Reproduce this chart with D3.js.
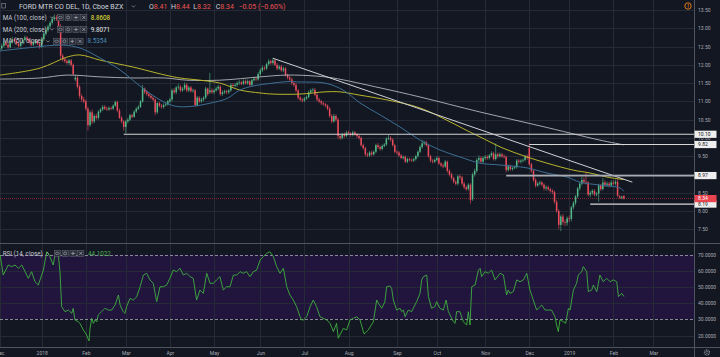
<!DOCTYPE html>
<html><head><meta charset="utf-8">
<script src="https://cdn.jsdelivr.net/npm/d3@7"></script>
<style>
html,body{margin:0;padding:0;background:#131722;}
svg{display:block;}
text{font-family:Roboto,"Noto Sans",sans-serif;}
</style></head><body>
<svg id="chart" width="720" height="357"></svg>
<script>
// ---------------- DATA ----------------
const open = [12.40,12.45,12.52,12.60,12.55,12.48,12.62,12.70,12.65,12.58,
12.52,12.60,12.68,12.75,12.70,12.62,12.55,12.60,12.66,12.58,
12.49,12.70,12.85,12.95,13.05,13.15,13.25,13.30,13.25,13.05,
12.25,12.15,12.10,12.05,12.12,12.00,11.60,11.65,11.40,11.15,
11.05,11.00,10.80,10.35,10.70,10.45,10.60,10.55,10.72,10.78,
10.85,10.80,10.78,10.82,10.80,10.88,10.98,10.75,10.55,10.45,
10.30,10.45,10.50,10.62,10.58,10.72,10.80,10.85,11.00,11.35,
11.25,11.20,11.15,11.10,11.05,10.70,10.95,10.88,10.85,10.90,
10.92,11.00,11.05,11.30,11.25,11.38,11.40,11.30,11.35,11.45,
11.30,11.38,11.28,11.30,10.90,11.10,11.00,11.05,11.10,11.35,
11.25,11.30,11.25,11.30,11.35,11.40,11.20,11.25,11.28,11.25,
11.30,11.45,11.42,11.45,11.50,11.52,11.48,11.55,11.50,11.55,
11.45,11.58,11.62,11.60,11.75,11.85,11.92,11.90,12.02,12.10,
12.05,12.12,12.00,11.90,11.95,11.85,11.90,11.72,11.65,11.60,
11.50,11.45,11.30,11.10,11.05,11.02,11.08,11.12,11.25,11.30,
11.32,11.18,11.05,11.00,10.95,10.92,10.88,10.80,10.60,10.45,
10.60,10.50,10.05,10.00,10.10,10.05,10.15,10.12,10.08,10.15,
10.10,10.05,10.00,9.80,9.72,9.55,9.52,9.60,9.55,9.62,
9.80,9.75,9.70,9.78,9.82,9.98,10.00,9.95,9.80,9.62,
9.60,9.52,9.45,9.48,9.35,9.42,9.40,9.38,9.42,9.50,
9.62,9.75,9.85,9.88,9.80,9.50,9.38,9.35,9.40,9.45,
9.30,9.25,9.22,9.35,9.10,9.00,8.90,8.80,8.75,8.95,
8.92,8.75,8.65,8.60,8.72,8.32,9.00,9.10,9.40,9.45,
9.35,9.45,9.48,9.45,9.52,9.58,9.42,9.55,9.50,9.55,
9.50,9.48,9.12,9.22,9.15,9.18,9.20,9.38,9.35,9.38,
9.40,9.50,9.72,9.28,9.10,8.85,8.70,8.75,8.78,8.72,
8.62,8.65,8.60,8.55,8.52,8.25,8.00,7.62,7.85,7.70,
7.68,7.80,7.78,8.10,8.22,8.40,8.62,8.75,8.85,8.80,
8.78,8.45,8.50,8.55,8.45,8.48,8.70,8.60,8.78,8.72,
8.75,8.70,8.78,8.75,8.80,8.40,8.36,8.41];

const high = [12.50,12.58,12.65,12.66,12.60,12.66,12.76,12.74,12.70,12.62,
12.64,12.72,12.80,12.79,12.74,12.66,12.64,12.70,12.70,12.62,
12.74,12.90,13.00,13.10,13.20,13.32,13.38,13.36,13.30,13.12,
12.30,12.20,12.15,12.16,12.16,12.04,11.72,11.70,11.45,11.20,
11.12,11.05,10.85,10.75,10.78,10.65,10.66,10.76,10.82,10.90,
10.90,10.86,10.86,10.86,10.92,11.02,11.02,10.80,10.60,10.48,
10.50,10.55,10.66,10.66,10.76,10.84,10.90,11.04,11.45,11.38,
11.30,11.25,11.20,11.14,11.08,10.98,10.99,10.93,10.95,10.96,
11.04,11.10,11.35,11.36,11.42,11.48,11.45,11.40,11.52,11.50,
11.42,11.42,11.35,11.34,11.15,11.14,11.10,11.14,11.40,11.38,
11.78,11.36,11.34,11.40,11.45,11.44,11.30,11.32,11.32,11.34,
11.50,11.50,11.50,11.55,11.58,11.56,11.60,11.60,11.60,11.58,
11.62,11.67,11.66,11.80,11.90,11.98,11.96,12.06,12.15,12.14,
12.18,12.16,12.05,12.00,12.00,11.95,11.94,11.76,11.70,11.65,
11.55,11.50,11.34,11.15,11.10,11.12,11.16,11.30,11.35,11.37,
11.36,11.22,11.10,11.04,11.00,10.96,10.92,10.84,10.65,10.66,
10.65,10.55,10.10,10.14,10.15,10.20,10.20,10.16,10.20,10.19,
10.14,10.08,10.04,9.84,9.76,9.60,9.64,9.65,9.66,9.84,
9.86,9.80,9.82,9.86,10.02,10.08,10.05,9.99,9.84,9.66,
9.64,9.56,9.52,9.52,9.46,9.46,9.44,9.46,9.54,9.66,
9.80,9.95,9.92,9.92,9.84,9.54,9.42,9.44,9.50,9.49,
9.34,9.30,9.40,9.38,9.14,9.05,8.94,8.84,8.99,9.00,
8.96,8.80,8.70,8.76,8.76,9.05,9.16,9.44,9.52,9.50,
9.50,9.53,9.53,9.56,9.63,9.62,9.85,9.60,9.60,9.59,
9.55,9.52,9.27,9.27,9.22,9.24,9.42,9.42,9.42,9.44,
9.54,9.55,9.85,9.32,9.14,8.90,8.80,8.83,8.82,8.76,
8.70,8.70,8.64,8.60,8.56,8.30,8.05,7.90,7.92,7.76,
7.85,7.88,8.14,8.27,8.44,8.66,8.80,8.94,8.92,9.07,
8.82,8.56,8.60,8.60,8.52,8.75,8.74,8.90,8.84,8.80,
8.80,8.84,8.84,8.86,8.90,8.44,8.42,8.44];

const low = [12.35,12.41,12.48,12.51,12.44,12.45,12.58,12.61,12.54,12.47,
12.48,12.56,12.64,12.66,12.58,12.50,12.51,12.56,12.54,12.44,
12.46,12.65,12.80,12.90,13.00,13.10,13.20,13.20,13.00,12.15,
12.08,12.05,12.00,12.00,11.95,11.70,11.55,11.35,11.08,10.98,
10.95,10.75,10.20,10.30,10.38,10.40,10.50,10.50,10.68,10.74,
10.76,10.74,10.74,10.76,10.76,10.85,10.70,10.52,10.40,10.20,
10.13,10.40,10.46,10.54,10.55,10.68,10.76,10.82,10.96,11.20,
11.15,11.10,11.06,11.00,10.62,10.66,10.84,10.80,10.80,10.86,
10.88,10.95,11.00,11.20,11.20,11.32,11.25,11.26,11.30,11.25,
11.25,11.24,11.24,10.85,10.86,10.95,10.96,11.00,11.06,11.15,
11.20,11.20,11.20,11.26,11.30,11.15,11.15,11.20,11.20,11.20,
11.26,11.38,11.38,11.40,11.45,11.44,11.44,11.46,11.45,11.40,
11.40,11.54,11.55,11.56,11.70,11.80,11.85,11.86,11.98,12.00,
12.00,11.96,11.85,11.86,11.80,11.80,11.68,11.60,11.55,11.45,
11.40,11.25,11.05,11.00,10.97,10.98,11.04,11.08,11.20,11.26,
11.14,11.00,10.95,10.90,10.88,10.84,10.75,10.55,10.40,10.42,
10.45,9.98,9.94,9.96,10.00,10.02,10.08,10.03,10.04,10.06,
10.00,9.95,9.76,9.68,9.50,9.47,9.48,9.50,9.52,9.58,
9.70,9.65,9.66,9.74,9.78,9.94,9.90,9.76,9.58,9.55,
9.48,9.42,9.41,9.31,9.31,9.36,9.34,9.34,9.38,9.46,
9.58,9.70,9.80,9.76,9.46,9.33,9.30,9.31,9.36,9.26,
9.20,9.17,9.18,9.05,8.95,8.85,8.75,8.70,8.70,8.86,
8.70,8.60,8.55,8.56,8.20,8.28,8.94,9.05,9.34,9.30,
9.30,9.40,9.40,9.41,9.48,9.38,9.38,9.45,9.46,9.45,
9.44,9.06,9.08,9.10,9.10,9.14,9.16,9.30,9.30,9.33,
9.36,9.40,9.24,9.05,8.80,8.64,8.66,8.70,8.67,8.56,
8.56,8.55,8.50,8.46,8.20,7.95,7.50,7.45,7.62,7.58,
7.60,7.70,7.72,8.04,8.16,8.35,8.56,8.70,8.74,8.72,
8.40,8.38,8.44,8.40,8.40,8.25,8.55,8.56,8.66,8.66,
8.64,8.66,8.70,8.70,8.38,8.33,8.32,8.32];

const close = [12.45,12.52,12.60,12.55,12.48,12.62,12.70,12.65,12.58,12.52,
12.60,12.68,12.75,12.70,12.62,12.55,12.60,12.66,12.58,12.49,
12.70,12.85,12.95,13.05,13.15,13.25,13.30,13.25,13.05,12.25,
12.15,12.10,12.05,12.12,12.00,11.75,11.65,11.40,11.15,11.05,
11.00,10.80,10.35,10.70,10.45,10.60,10.55,10.72,10.78,10.85,
10.80,10.78,10.82,10.80,10.88,10.98,10.75,10.55,10.45,10.30,
10.45,10.50,10.62,10.58,10.72,10.80,10.85,11.00,11.35,11.25,
11.20,11.15,11.10,11.05,10.70,10.95,10.88,10.85,10.90,10.92,
11.00,11.05,11.30,11.25,11.38,11.40,11.30,11.35,11.45,11.30,
11.38,11.28,11.30,10.90,11.10,11.00,11.05,11.10,11.35,11.20,
11.30,11.25,11.30,11.35,11.40,11.20,11.25,11.28,11.25,11.30,
11.45,11.42,11.45,11.50,11.52,11.48,11.55,11.50,11.55,11.45,
11.58,11.62,11.60,11.75,11.85,11.92,11.90,12.02,12.10,12.05,
12.12,12.00,11.90,11.95,11.85,11.90,11.72,11.65,11.60,11.50,
11.45,11.30,11.10,11.05,11.02,11.08,11.12,11.25,11.30,11.32,
11.18,11.05,11.00,10.95,10.92,10.88,10.80,10.60,10.45,10.60,
10.50,10.05,10.00,10.10,10.05,10.15,10.12,10.08,10.15,10.10,
10.05,10.00,9.80,9.72,9.55,9.52,9.60,9.55,9.62,9.80,
9.75,9.70,9.78,9.82,9.98,10.00,9.95,9.80,9.62,9.60,
9.52,9.45,9.48,9.35,9.42,9.40,9.38,9.42,9.50,9.62,
9.75,9.85,9.88,9.80,9.50,9.38,9.35,9.40,9.45,9.30,
9.25,9.22,9.35,9.10,9.00,8.90,8.80,8.75,8.95,8.92,
8.75,8.65,8.60,8.72,8.30,9.00,9.10,9.40,9.45,9.35,
9.45,9.48,9.45,9.52,9.58,9.42,9.55,9.50,9.55,9.50,
9.48,9.12,9.22,9.15,9.18,9.20,9.38,9.35,9.38,9.40,
9.50,9.45,9.28,9.10,8.85,8.70,8.75,8.78,8.72,8.62,
8.65,8.60,8.55,8.52,8.25,8.00,7.62,7.85,7.70,7.68,
7.80,7.78,8.10,8.22,8.40,8.62,8.75,8.85,8.80,8.78,
8.45,8.50,8.55,8.45,8.48,8.70,8.60,8.78,8.72,8.75,
8.70,8.78,8.75,8.80,8.42,8.36,8.39,8.34];

// moving averages (bar index, value)
const ma50Idx = [0.2,14.4,29.7,38.2,47.7,57.3,66.8,76.3,83.4,90.6,100.1,108.2,114.3,120.5,128.6,136.7,142.9,154.8,163.4,171.4,181,190.5,200,209.5,219,228.5,238,250.9,260.4,269.9,276.1,285.6,295.2,297];
const ma50Val = [12.38,12.47,12.54,12.46,12.19,11.86,11.42,11.04,10.87,10.86,10.95,11.08,11.31,11.42,11.49,11.54,11.53,11.50,11.31,10.96,10.63,10.30,9.94,9.67,9.48,9.31,9.26,9.18,9.04,8.93,8.79,8.71,8.63,8.54];
const ma100Idx = [0.2,19.2,32.0,38.2,47.7,63.4,78.7,85.8,95.3,104.8,114.3,123.9,130,142.9,154.8,161.9,171.4,184.3,200,214.3,222.4,228.5,239.5,250.9,260.4,272.8,280.9,288.9,297];
const ma100Val = [11.72,11.91,12.21,12.27,12.13,11.94,11.72,11.64,11.58,11.50,11.31,11.23,11.20,11.20,11.26,11.26,11.17,11.04,10.82,10.44,10.20,10.03,9.72,9.48,9.31,9.12,9.04,8.93,8.86];
const ma200Idx = [0.2,19.2,32.0,47.7,63.4,78.7,89.1,104.8,123.9,136.7,151,158.6,181,200,228.5,257.1,285.6,297];
const ma200Val = [11.61,11.64,11.72,11.67,11.64,11.64,11.58,11.58,11.67,11.72,11.69,11.64,11.37,11.12,10.71,10.33,9.94,9.81];

// RSI(14)
const rsiIdx = [0.2,1.7,2.5,4.1,5.7,7.3,8.9,10.5,12.1,13.6,15.2,16.8,18.4,20.8,22.4,23.9,25.5,26.3,27.9,28.7,29.5,31.1,32.7,34.3,35.0,35.8,37.4,38.2,39.8,41.4,42.5,43.0,43.8,44.6,45.4,46.2,46.9,48.5,50.1,51.7,53.3,54.9,56.5,57.3,58.8,59.6,60.4,62.0,63.6,65.2,66.8,68.4,69.9,71.5,73.1,74.7,76.3,77.9,79.5,81.0,82.6,84.2,85.8,87.4,89.0,90.6,92.1,93.7,95.3,96.9,98.5,100.1,101.7,103.2,104.8,106.4,108.0,109.6,111.2,112.8,114.4,115.9,117.5,119.1,120.7,122.3,123.9,125.5,127.0,128.6,130.2,131.8,133.4,135.0,136.6,138.1,139.7,141.3,142.9,143.7,144.5,146.1,147.7,149.2,150.8,152.4,154.0,155.6,157.2,158.8,160.3,161.1,161.9,163.5,165.1,166.7,168.3,169.9,171.45,
173.4,175.4,177.8,179.4,180.2,181.8,183.3,184.1,185.7,186.5,187.3,188.9,190.5,191.3,192.1,192.9,194.4,196.0,196.8,198.4,200.0,200.8,201.6,203.2,204.0,205.5,207.1,207.9,209.5,211.1,212.4,213.5,215.1,215.9,216.7,217.4,219.0,220.6,222.2,223.0,223.8,224.6,226.2,227.8,228.6,229.3,230.9,232.5,234.1,235.7,238.1,239.7,241.2,242.0,242.8,244.4,246.0,247.6,249.2,250.8,252.3,253.9,255.5,257.1,257.9,259.5,261.1,262.6,264.2,265.0,265.8,266.6,268.2,269.3,270.6,271.4,273.0,274.5,275.3,276.9,277.7,279.3,280.1,281.7,282.5,284.1,285.6,287.2,288.8,290.4,292.0,293.6,294.4,296.0,297.0];
const rsiVal = [69.7,57.3,59.4,63.5,62.5,63.5,61.5,63.5,59.4,55.3,59.4,53.2,51.2,60.4,71.7,68.7,63.5,69.7,69.7,59.4,37.8,34.7,35.7,33.7,36.8,29.6,28.5,27.5,23.4,20.3,16.6,24.4,30.6,27.5,29.6,28.5,32.7,34.7,36.8,35.7,35.7,38.8,45.0,38.8,34.7,33.7,37.8,42.9,41.9,43.9,50.1,57.3,58.4,54.3,52.2,40.9,50.1,50.1,51.2,55.3,60.4,59.4,61.5,57.3,58.4,56.3,55.3,41.9,48.1,46.0,58.4,52.2,52.2,54.3,56.3,48.1,50.1,50.1,57.3,57.3,59.4,58.4,59.4,56.3,59.4,60.4,66.6,68.7,70.7,71.7,68.7,62.5,58.4,61.5,50.1,45.0,41.9,37.8,31.6,29.6,29.6,31.6,37.8,41.9,37.8,31.6,30.6,29.6,27.5,22.4,27.5,18.3,20.3,24.4,23.4,29.6,30.6,31.6,29.6,
20.9,23.4,28.5,41.9,39.9,36.8,40.9,50.1,50.6,49.1,41.9,35.7,36.8,34.7,35.7,31.6,35.7,34.7,36.8,40.9,46.0,54.3,56.3,57.3,44.0,36.8,37.8,40.9,36.8,35.7,41.9,34.7,30.6,28.5,27.5,34.7,34.7,28.5,26.5,34.7,26.5,50.1,51.2,60.4,61.5,56.3,59.4,58.4,60.4,54.3,58.4,57.3,45.0,48.1,46.0,47.1,54.3,53.2,54.3,58.4,48.1,41.9,35.7,37.8,38.8,35.7,35.7,35.7,31.6,26.5,22.4,29.6,28.5,27.5,36.8,35.7,48.1,52.2,57.3,59.4,62.5,59.4,47.1,48.1,51.2,47.1,57.3,53.2,55.3,53.2,54.3,53.2,44.0,46.0,44.1];

// drawings
const trendIdx = [130, 301];
const trendVal = [12.18, 8.79];
const levelVal = [10.10, 9.82, 8.97, 8.19];
const levelStart = [59, 252, 241, 281];
const lastPrice = 8.34;

// axes
const monthIdx = [0,20,41,60,81,102,124,145,166,189,208,231,252,271,292,311];
const monthLabels = ["Dec","2018","Feb","Mar","Apr","May","Jun","Jul","Aug","Sep","Oct","Nov","Dec","2019","Feb","Mar"];
const priceTicks = [13.5,13,12.5,12,11.5,11,10.5,10,9.5,9,8.5,8,7.5];
const rsiTicks = [70,60,50,40,30,20];

// legend
const titleText = "FORD MTR CO DEL, 1D, Cboe BZX";
const ohlcLabels = ["O","H","L","C"];
const ohlcValues = ["8.41","8.44","8.32","8.34"];
const changeText = "\u22120.05 (\u22120.60%)";
const maNames = ["MA (100, close)","MA (200, close)","MA (50, close)"];
const maLast = ["8.8608","9.8071","8.5354"];
const rsiName = "RSI (14, close)";
const rsiLast = "44.1022";

// ---------------- CHART ----------------
const W = 720, H = 357;
const AX = 694.5;            // right price axis line
const MAIN_B = 243.5;        // main pane bottom
const RSI_T = 244, RSI_B = 347.5;

const C = {
  bg:"#131722", grid:"#262a36", axis:"#50535e", text:"#a9acb4",
  up:"#53b987", down:"#eb4d5c",
  ma50:"#3d6f95", ma100:"#b9b52c", ma200:"#b4b6bc",
  ma50t:"#4f87b3", ma100t:"#e6e23a", ma200t:"#e8e8e8",
  rsi:"#3fb03f", band:"#21153d", level:"#d6d6d6"
};

const svg = d3.select("#chart");
svg.append("rect").attr("width",W).attr("height",H).attr("fill",C.bg);

const x = d3.scaleLinear().domain([0,311]).range([-0.33,653.3]);
const y = d3.scaleLinear().domain([7.5,13.5]).range([229.3,10]);
const yr = d3.scaleLinear().domain([20,70]).range([335.5,254.5]);

const defs = svg.append("defs");
defs.append("clipPath").attr("id","cMain").append("rect").attr("x",0).attr("y",0).attr("width",AX).attr("height",MAIN_B);
defs.append("clipPath").attr("id","cRsi").append("rect").attr("x",0).attr("y",RSI_T).attr("width",AX).attr("height",RSI_B-RSI_T);

// RSI band
svg.append("rect").attr("x",0).attr("width",AX).attr("y",yr(70)).attr("height",yr(30)-yr(70)).attr("fill",C.band);

// grid
const grid = svg.append("g").attr("stroke",C.grid).attr("stroke-width",1);
grid.selectAll("line.v").data(monthIdx).join("line")
  .attr("x1",d=>Math.round(x(d))+0.5).attr("x2",d=>Math.round(x(d))+0.5)
  .attr("y1",0).attr("y2",RSI_B);
grid.selectAll("line.h").data(priceTicks).join("line")
  .attr("x1",0).attr("x2",AX).attr("y1",d=>Math.round(y(d))+0.5).attr("y2",d=>Math.round(y(d))+0.5);
grid.selectAll("line.r").data(rsiTicks.filter(d=>d!==70&&d!==30)).join("line")
  .attr("x1",0).attr("x2",AX).attr("y1",d=>Math.round(yr(d))+0.5).attr("y2",d=>Math.round(yr(d))+0.5);

// RSI dashed bounds
svg.append("g").selectAll("line").data([70,30]).join("line")
  .attr("x1",0).attr("x2",AX).attr("y1",d=>Math.round(yr(d))+0.5).attr("y2",d=>Math.round(yr(d))+0.5)
  .attr("stroke","#a3a6af").attr("stroke-width",0.8).attr("stroke-dasharray","3,2");

// main pane
const main = svg.append("g").attr("clip-path","url(#cMain)");

// last price dotted line
main.append("line").attr("x1",0).attr("x2",AX).attr("y1",y(lastPrice)).attr("y2",y(lastPrice))
  .attr("stroke","#8a2833").attr("stroke-width",1).attr("stroke-dasharray","1,1");

const candles = d3.range(close.length).map(i=>({i,o:open[i],h:high[i],l:low[i],c:close[i]}));
const col = d=> d.c>=d.o ? C.up : C.down;
main.append("g").selectAll("line").data(candles).join("line")
  .attr("x1",d=>x(d.i)).attr("x2",d=>x(d.i)).attr("y1",d=>y(d.h)).attr("y2",d=>y(d.l))
  .attr("stroke",col).attr("stroke-width",0.6);
main.append("g").selectAll("rect").data(candles).join("rect")
  .attr("x",d=>x(d.i)-0.75).attr("width",1.5)
  .attr("y",d=>y(Math.max(d.o,d.c)))
  .attr("height",d=>Math.max(0.7,Math.abs(y(d.o)-y(d.c))))
  .attr("fill",col);

const maLine = d3.line().x(d=>x(d[0])).y(d=>y(d[1])).curve(d3.curveCatmullRom.alpha(0.5));
const zip = (a,b)=>a.map((v,k)=>[v,b[k]]);
main.append("path").attr("d",maLine(zip(ma200Idx,ma200Val))).attr("fill","none").attr("stroke",C.ma200).attr("stroke-width",0.9);
main.append("path").attr("d",maLine(zip(ma100Idx,ma100Val))).attr("fill","none").attr("stroke",C.ma100).attr("stroke-width",1);
main.append("path").attr("d",maLine(zip(ma50Idx,ma50Val))).attr("fill","none").attr("stroke",C.ma50).attr("stroke-width",1);

// trend line
main.append("line").attr("x1",x(trendIdx[0])).attr("y1",y(trendVal[0])).attr("x2",x(trendIdx[1])).attr("y2",y(trendVal[1]))
  .attr("stroke","#cfd1d6").attr("stroke-width",1);

// horizontal levels
main.append("g").selectAll("line").data(levelVal).join("line")
  .attr("x1",(d,k)=>x(levelStart[k])).attr("x2",AX)
  .attr("y1",d=>y(d)).attr("y2",d=>y(d))
  .attr("stroke",(d,k)=>k===2?"#a9abb2":C.level).attr("stroke-width",(d,k)=>k===2?1.8:1.2);

// RSI line
svg.append("g").attr("clip-path","url(#cRsi)").append("path")
  .attr("d",d3.line().x(d=>x(d[0])).y(d=>yr(d[1]))(zip(rsiIdx,rsiVal)))
  .attr("fill","none").attr("stroke",C.rsi).attr("stroke-width",0.9);

// separators
svg.append("line").attr("x1",0).attr("x2",W).attr("y1",MAIN_B).attr("y2",MAIN_B).attr("stroke",C.axis).attr("stroke-width",1);
svg.append("line").attr("x1",0).attr("x2",W).attr("y1",RSI_B).attr("y2",RSI_B).attr("stroke",C.axis).attr("stroke-width",1);
svg.append("line").attr("x1",AX).attr("x2",AX).attr("y1",0).attr("y2",H).attr("stroke",C.axis).attr("stroke-width",1);

// axes
function styleAxis(g){
  g.select(".domain").remove();
  g.selectAll("line").remove();
  g.selectAll("text").attr("fill",C.text).attr("font-size",5).attr("font-family","Roboto,sans-serif");
}
svg.append("g").attr("transform",`translate(${AX},0)`)
  .call(d3.axisRight(y).tickValues(priceTicks).tickFormat(d3.format(".2f")).tickSize(0).tickPadding(3.5))
  .call(styleAxis);
svg.append("g").attr("transform",`translate(${AX},0)`)
  .call(d3.axisRight(yr).tickValues(rsiTicks).tickFormat(d3.format(".4f")).tickSize(0).tickPadding(3.5))
  .call(styleAxis);
svg.append("g").attr("transform",`translate(0,${RSI_B})`)
  .call(d3.axisBottom(x).tickValues(monthIdx).tickFormat((d,k)=>monthLabels[k]).tickSize(0).tickPadding(4))
  .call(styleAxis);

// price labels on axis
const tags = svg.append("g");
levelVal.forEach(v=>{
  tags.append("rect").attr("x",AX).attr("y",y(v)-3.6).attr("width",22).attr("height",7.2).attr("fill","#eeeeee");
  tags.append("text").attr("x",698).attr("y",y(v)).attr("dy","0.35em").attr("font-size",5).attr("fill","#131722").text(d3.format(".2f")(v));
});
tags.append("rect").attr("x",AX).attr("y",y(lastPrice)-3.6).attr("width",22).attr("height",7.2).attr("fill","#e9434f");
tags.append("text").attr("x",698).attr("y",y(lastPrice)).attr("dy","0.35em").attr("font-size",5).attr("fill","#ffffff").text(d3.format(".2f")(lastPrice));

// alert icon top right & gear bottom right
svg.append("circle").attr("cx",688).attr("cy",6).attr("r",3.2).attr("fill","none").attr("stroke","#f0821e").attr("stroke-width",0.9);
svg.append("text").attr("x",688).attr("y",6).attr("dy","0.35em").attr("text-anchor","middle").attr("font-size",4.5).attr("font-weight","bold").attr("fill","#f0821e").text("!");
svg.append("circle").attr("cx",707).attr("cy",352.5).attr("r",2.6).attr("fill","none").attr("stroke","#8a8d96").attr("stroke-width",1.2).attr("stroke-dasharray","1,0.8");
svg.append("circle").attr("cx",707).attr("cy",352.5).attr("r",1.2).attr("fill","none").attr("stroke","#8a8d96").attr("stroke-width",0.6);

// ---------- legends ----------
const lg = svg.append("g");
function chevron(cx, cy, up){
  const d = up ? `M${cx-1.6},${cy+0.9}L${cx},${cy-0.8}L${cx+1.6},${cy+0.9}` : `M${cx-1.6},${cy-0.8}L${cx},${cy+0.9}L${cx+1.6},${cy-0.8}`;
  lg.append("path").attr("d",d).attr("fill","none").attr("stroke","#b2b5be").attr("stroke-width",0.6);
}
function icons(x0, cy){
  for(let k=0;k<4;k++){
    const bx = x0 + k*7.8;
    lg.append("rect").attr("x",bx).attr("y",cy-3).attr("width",6.2).attr("height",6.2)
      .attr("fill","#2a2e39").attr("stroke","#6a6d78").attr("stroke-width",0.5);
    const cx = bx+3.1;
    if(k===0){ lg.append("ellipse").attr("cx",cx).attr("cy",cy+0.1).attr("rx",2).attr("ry",1.1).attr("fill","none").attr("stroke","#b2b5be").attr("stroke-width",0.5); }
    if(k===1){ lg.append("circle").attr("cx",cx).attr("cy",cy+0.1).attr("r",1.5).attr("fill","none").attr("stroke","#b2b5be").attr("stroke-width",0.6); }
    if(k===2){ lg.append("path").attr("d",`M${cx-1.8},${cy+0.1}H${cx+1.8}M${cx},${cy-1.7}V${cy+1.9}`).attr("stroke","#b2b5be").attr("stroke-width",0.7); }
    if(k===3){ lg.append("path").attr("d",`M${cx-1.5},${cy-1.4}L${cx+1.5},${cy+1.6}M${cx+1.5},${cy-1.4}L${cx-1.5},${cy+1.6}`).attr("stroke","#b2b5be").attr("stroke-width",0.7); }
  }
}
// header
lg.append("rect").attr("x",1.8).attr("y",3.4).attr("width",3.6).attr("height",4.6).attr("fill","none").attr("stroke","#9598a1").attr("stroke-width",0.6);
lg.append("text").attr("x",19).attr("y",8.6).attr("font-size",7).attr("fill","#d1d4dc").text(titleText);
chevron(133.5, 6.3, false);
const ohlcX = [149,171,193.3,215.7];
ohlcLabels.forEach((l,k)=>{
  const t = lg.append("text").attr("x",ohlcX[k]).attr("y",8.6).attr("font-size",7);
  t.append("tspan").attr("fill","#d1d4dc").text(l);
  t.append("tspan").attr("fill","#ef5350").text(ohlcValues[k]);
});
lg.append("text").attr("x",238.5).attr("y",8.6).attr("font-size",7).attr("fill","#ef5350").text(changeText);

// MA rows
const maRowY = [17.4, 29.3, 41.2];
const maIconX = [57.3, 57.3, 53.5];
const maValX = [90.7, 90.7, 87.5];
const maValCol = [C.ma100t, C.ma200t, C.ma50t];
maNames.forEach((n,k)=>{
  lg.append("text").attr("x",2.7).attr("y",maRowY[k]).attr("dy","0.35em").attr("font-size",6.3).attr("fill","#c5c8d0").text(n);
  chevron(maIconX[k]-5.5, maRowY[k], false);
  icons(maIconX[k], maRowY[k]);
  lg.append("text").attr("x",maValX[k]).attr("y",maRowY[k]).attr("dy","0.35em").attr("font-size",6.3).attr("fill",maValCol[k]).text(maLast[k]);
});
// RSI row
lg.append("text").attr("x",2.7).attr("y",253.3).attr("dy","0.35em").attr("font-size",6.3).attr("fill","#c5c8d0").text(rsiName);
chevron(47.5, 253.3, true);
icons(54.3, 253.3);
lg.append("text").attr("x",88).attr("y",253.3).attr("dy","0.35em").attr("font-size",6.3).attr("fill","#4caf50").text(rsiLast);
</script>
</body></html>
